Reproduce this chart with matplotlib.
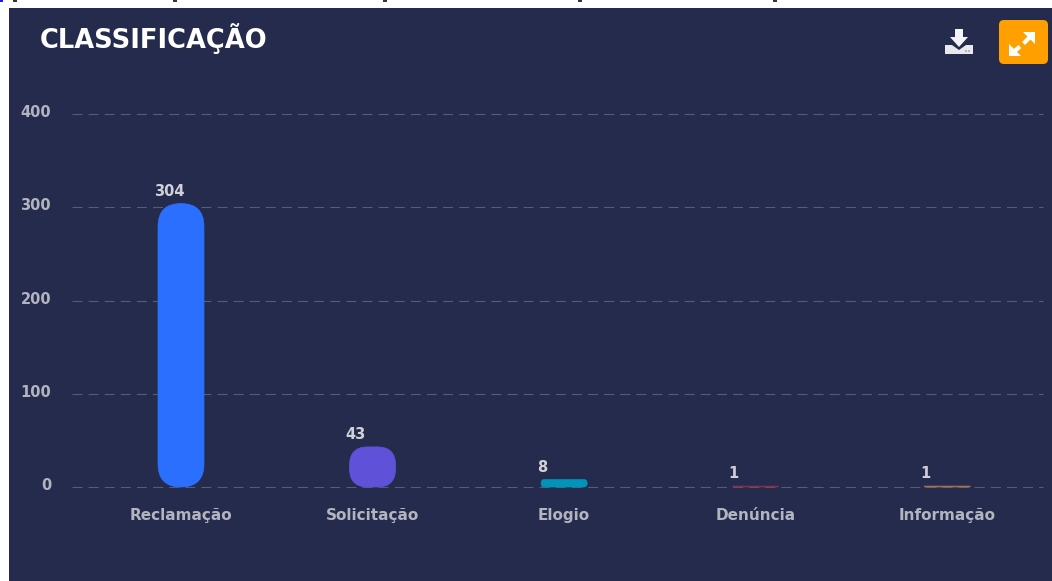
import matplotlib
matplotlib.use('Agg')
import matplotlib.pyplot as plt
from matplotlib.patches import FancyBboxPatch, Polygon, Rectangle, Circle
from matplotlib.transforms import ScaledTranslation

W, H = 1052, 581
PANEL = '#252b4c'
GRID = '#565b77'
LABEL = '#b2b4c0'

categories = ['Reclamação', 'Solicitação', 'Elogio', 'Denúncia', 'Informação']
values = [304, 43, 8, 1, 1]
colors = ['#2b6fff', '#5f52d9', '#0094b8', '#8f2c45', '#a8714f']
y_ticks = [0, 100, 200, 300, 400]

BAR_W = 0.24
RADIUS_PX = 23

fig = plt.figure(figsize=(W / 100, H / 100), dpi=100, facecolor='white')


def px_rect(x0, y0, x1, y1):
    # pixel box measured from the top left, to figure fractions
    return [x0 / W, 1 - y1 / H, (x1 - x0) / W, (y1 - y0) / H]


# dark card
bg = fig.add_axes(px_rect(0, 0, W, H))
bg.set_xlim(0, W)
bg.set_ylim(H, 0)
bg.axis('off')
bg.add_patch(Rectangle((9, 8), W - 9, H - 8, color=PANEL, lw=0))

# bits of the cropped page text above the card
bg.add_patch(Rectangle((0, 0), 3, 2, color='#1a1aee', lw=0))
for x0 in [13, 173, 383, 578, 773]:
    bg.add_patch(Rectangle((x0, 0), 4, 1.5, color='#333333', lw=0))

ax = fig.add_axes(px_rect(72, 114, 1043, 487))
ax.patch.set_alpha(0)
ax.set_xlim(-0.569, 4.5)
ax.set_ylim(0, 400)
for s in ax.spines.values():
    s.set_visible(False)
ax.set_yticks(y_ticks)
ax.set_xticks(range(len(categories)))
ax.set_xticklabels(categories)
ax.tick_params(axis='both', length=0)
ax.tick_params(axis='x', pad=15, labelcolor=LABEL, labelsize=11)
ax.tick_params(axis='y', pad=15, labelcolor=LABEL, labelsize=10.5)
for t in ax.get_xticklabels():
    t.set_fontweight('bold')
up = ScaledTranslation(0, 2 / 72, fig.dpi_scale_trans)
for t in ax.get_yticklabels():
    t.set_fontweight('bold')
    t.set_transform(t.get_transform() + up)
ax.grid(axis='y', color=GRID, linestyle=(0, (9, 5.5)), linewidth=0.8)
for line in ax.get_ygridlines():
    line.set_clip_on(False)
ax.set_axisbelow(True)

# bars with rounded ends, the radius is given in pixels
x_per_px = (4.5 + 0.569) / (1043 - 72)
y_per_px = 400 / (487 - 114)
for i, (v, c) in enumerate(zip(values, colors)):
    h_px = v / y_per_px
    r_px = min(RADIUS_PX, h_px * 0.45)
    ax.add_patch(FancyBboxPatch(
        (i - BAR_W / 2, 0), BAR_W, v,
        boxstyle=f'round,pad=0,rounding_size={r_px * x_per_px}',
        mutation_aspect=y_per_px / x_per_px,
        facecolor=c, edgecolor=c, linewidth=0.5, zorder=3, clip_on=False))
    ax.annotate(str(v), (i, v), xytext=(-27, 5), textcoords='offset pixels',
                ha='left', va='bottom', color='#d0d1d8', fontsize=10.5,
                fontweight='bold')

bg.text(40, 39, 'CLASSIFICAÇÃO', color='white', fontsize=18.5, fontweight='bold',
        family='DejaVu Sans', va='center', ha='left')

# download icon
bg.add_patch(Polygon([(945, 45), (952, 45), (959, 50), (966, 45), (973, 45), (973, 54), (945, 54)],
                     color='#e8e9ee', lw=0))
bg.add_patch(Polygon([(955, 29), (963, 29), (963, 37), (968, 37), (959, 47), (950, 37), (955, 37)],
                     color='#f4f4f6', lw=0))
for cx in [966, 969]:
    bg.add_patch(Circle((cx, 51), 0.8, color='#7d8199', lw=0))

# expand button
bg.add_patch(FancyBboxPatch((999, 20), 49, 44, boxstyle='round,pad=0,rounding_size=5',
                            facecolor='#ffa000', edgecolor='none'))
bg.add_patch(Polygon([(1035, 32), (1023, 32), (1035, 44)], color='white', lw=0))
bg.add_patch(Polygon([(1009, 56), (1021, 56), (1009, 44)], color='white', lw=0))
bg.plot([1030, 1023.5], [37, 43.5], color='white', lw=3, solid_capstyle='butt')
bg.plot([1020, 1014], [46.5, 51.5], color='white', lw=3, solid_capstyle='butt')

fig.savefig('out.png', dpi=100)
